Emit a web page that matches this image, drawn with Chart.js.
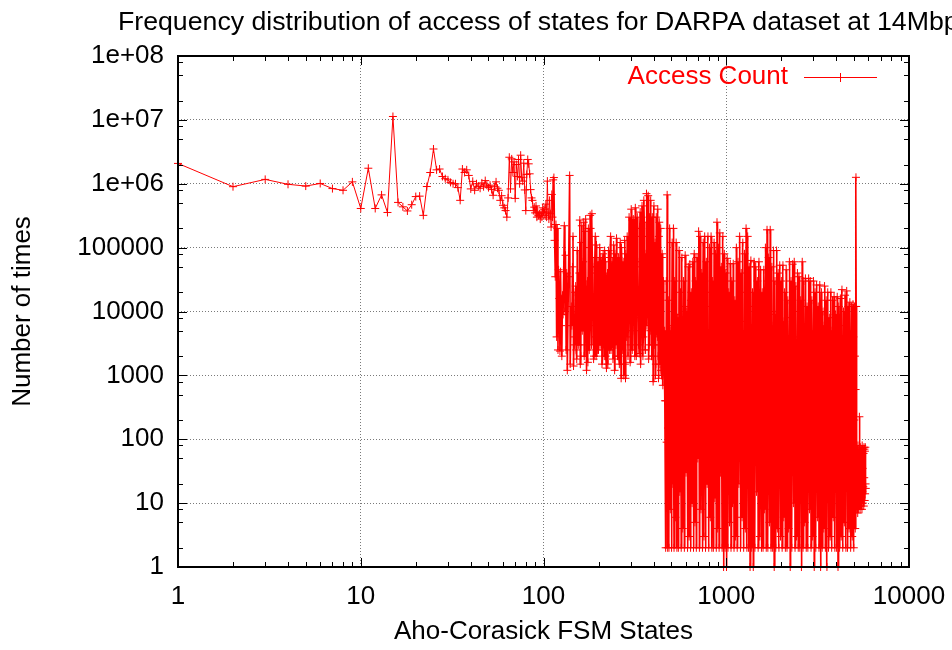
<!DOCTYPE html>
<html>
<head>
<meta charset="utf-8">
<title>Access Count</title>
<script src="https://cdn.jsdelivr.net/npm/chart.js@4.4.1/dist/chart.umd.min.js"></script>
<style>
  html, body { margin: 0; padding: 0; background: #fff; }
  canvas { display: block; }
</style>
</head>
<body>
<canvas id="chart" width="952" height="650"></canvas>
<script>
// Access counts per Aho-Corasick state
const chartTitle = 'Frequency distribution of access of states for DARPA dataset at 14Mbps';
const seriesName = 'Access Count';

// states 1..100 (sparse head of the curve)
const headStates = [
  1, 2, 3, 4, 5, 6, 7, 8, 9, 10,
  11, 12, 13, 14, 15, 16, 17, 18, 19, 20,
  21, 22, 23, 24, 25, 26, 27, 28, 29, 30,
  31, 32, 33, 34, 35, 36, 37, 38, 39, 40,
  41, 42, 43, 44, 45, 46, 47, 48, 49, 50,
  51, 52, 53, 54, 55, 56, 57, 58, 59, 60,
  61, 62, 63, 64, 65, 66, 67, 68, 69, 70,
  71, 72, 73, 74, 75, 76, 77, 78, 79, 80,
  81, 82, 83, 84, 85, 86, 87, 88, 89, 90,
  91, 92, 93, 94, 95, 96, 97, 98, 99, 100
];
const headCounts = [
  2080000, 900000, 1170000, 980000, 920000, 1010000, 840000, 790000, 1070000, 410000,
  1750000, 410000, 670000, 355000, 11300000, 510000, 435000, 375000, 470000, 630000,
  640000, 320000, 905000, 1500000, 3500000, 1650000, 1700000, 1300000, 1200000, 1150000,
  1050000, 1000000, 1000000, 870000, 550000, 1700000, 1500000, 1650000, 1350000, 830000,
  1090000, 790000, 1000000, 910000, 850000, 1030000, 900000, 1120000, 950000, 870000,
  950000, 810000, 660000, 900000, 1070000, 850000, 790000, 550000, 650000, 460000,
  420000, 380000, 300000, 600000, 2600000, 830000, 2450000, 1500000, 2200000, 590000,
  2000000, 1300000, 2400000, 1000000, 2800000, 1260000, 1100000, 2100000, 800000, 380000,
  1400000, 2400000, 2050000, 1430000, 810000, 600000, 550000, 380000, 430000, 350000,
  450000, 300000, 360000, 320000, 340000, 280000, 350000, 300000, 420000, 360000
];

// states 101..462
const midStates = [
  101, 102, 103, 104, 105, 106, 107, 108, 109, 110,
  111, 112, 113, 114, 115, 116, 117, 118, 119, 120,
  121, 122, 123, 124, 125, 126, 127, 128, 130, 131,
  132, 133, 134, 135, 137, 139, 140, 142, 144, 146,
  148, 150, 152, 154, 156, 158, 160, 162, 164, 166,
  168, 170, 172, 174, 176, 178, 180, 182, 184, 186,
  188, 190, 192, 194, 196, 198, 200, 203, 206, 209,
  212, 215, 218, 221, 224, 227, 230, 233, 236, 239,
  242, 245, 248, 251, 254, 257, 260, 263, 266, 269,
  272, 275, 278, 281, 284, 287, 290, 294, 298, 302,
  306, 310, 314, 318, 322, 326, 330, 334, 338, 342,
  346, 350, 354, 358, 362, 366, 370, 374, 378, 382,
  386, 390, 394, 398, 402, 406, 410, 414, 418, 422,
  426, 430, 434, 438, 442, 446, 450, 454, 458, 462
];
const midCounts = [
  400000, 320000, 480000, 300000, 1100000, 360000, 280000, 550000, 340000, 210000,
  680000, 300000, 1150000, 1250000, 130000, 35000, 230000, 4000, 200000, 2500,
  45000, 16000, 2400, 42000, 6000, 2000, 18000, 9000, 220000, 10000,
  76000, 2500, 40000, 1200, 35000, 1350000, 1500, 12000, 50000, 1400,
  3000, 25000, 1800, 6000, 15000, 270000, 2000, 220000, 14000, 250000,
  3000, 280000, 1200, 30000, 200000, 2500, 320000, 8000, 340000, 50000,
  1800, 9000, 150000, 2000, 40000, 12000, 2500, 100000, 70000, 1500,
  80000, 2000, 60000, 1300, 40000, 90000, 2500, 150000, 3000, 60000,
  110000, 1200, 30000, 140000, 2000, 70000, 1500, 120000, 900, 50000,
  18000, 1000, 130000, 900, 40000, 150000, 2000, 300000, 1600, 400000,
  2500, 280000, 8000, 420000, 2000, 300000, 15000, 2200, 360000, 5000,
  450000, 2000, 550000, 30000, 2500, 700000, 15000, 650000, 3000, 200000,
  550000, 2000, 300000, 800, 450000, 12000, 1000, 300000, 5000, 400000,
  900, 250000, 1500, 200000, 1000, 80000, 700, 30000, 1500, 400
];
// extra states in between, 143..460
const midFillStates = [
  143, 145, 147, 149, 151, 153, 155, 157, 159, 161,
  163, 165, 167, 169, 171, 173, 175, 177, 179, 181,
  183, 185, 187, 189, 191, 193, 195, 197, 199,
  204, 207, 210, 213, 216, 219, 222, 225, 228, 231,
  234, 237, 240, 243, 246, 249, 252, 255, 258, 261,
  264, 267, 270, 273, 276, 279, 282, 285, 288,
  296, 300, 304, 308, 312, 316, 320, 324, 328, 332,
  336, 340, 344, 348, 352, 356, 360, 364, 368, 372,
  376, 380, 384, 388, 392, 396, 400, 404, 408, 412,
  416, 420, 424, 428, 432, 436, 440, 444, 448, 452,
  456, 460
];
const midFillCounts = [
  6000, 150000, 4000, 20000, 2500, 90000, 3000, 40000, 1500, 120000,
  5000, 60000, 2000, 180000, 8000, 25000, 1600, 100000, 6000, 200000,
  3000, 70000, 12000, 2000, 50000, 4000, 110000, 2500, 60000,
  3000, 20000, 60000, 5000, 90000, 2000, 30000, 1500, 8000, 70000,
  2500, 40000, 1800, 15000, 80000, 3000, 10000, 50000, 2000, 30000,
  4000, 100000, 2500, 60000, 6000, 1500, 80000, 4000, 20000,
  20000, 3000, 100000, 5000, 40000, 2000, 150000, 8000, 60000, 3000,
  200000, 1500, 50000, 12000, 4000, 250000, 2500, 80000, 6000, 150000,
  1800, 300000, 5000, 40000, 2000, 100000, 8000, 3000, 120000, 1500,
  60000, 4000, 2000, 150000, 3000, 30000, 1200, 70000, 2500, 20000,
  1000, 5000
];

// states 466..5150 (dense band)
const denseStates = [
  466, 470, 475, 478, 482, 486, 490, 494, 498, 502,
  506, 510, 514, 518, 522, 527, 532, 537, 542, 547,
  552, 557, 562, 567, 572, 578, 584, 590, 596, 602,
  608, 614, 620, 626, 632, 638, 644, 650, 656, 662,
  668, 674, 680, 686, 692, 699, 706, 713, 720, 727,
  734, 741, 748, 755, 762, 770, 778, 786, 794, 802,
  810, 818, 826, 834, 842, 850, 858, 866, 874, 882,
  890, 898, 906, 914, 922, 931, 940, 949, 958, 967,
  976, 985, 994, 1003, 1012, 1022, 1032, 1042, 1052, 1062,
  1072, 1082, 1092, 1103, 1114, 1125, 1136, 1148, 1160, 1172,
  1184, 1196, 1208, 1220, 1232, 1245, 1258, 1271, 1284, 1297,
  1310, 1323, 1336, 1350, 1364, 1378, 1392, 1406, 1420, 1435,
  1450, 1465, 1480, 1495, 1510, 1526, 1542, 1558, 1574, 1590,
  1606, 1622, 1638, 1655, 1672, 1689, 1706, 1723, 1740, 1758,
  1776, 1794, 1812, 1830, 1848, 1866, 1885, 1904, 1923, 1942,
  1962, 1982, 2002, 2022, 2043, 2064, 2085, 2106, 2128, 2150,
  2172, 2194, 2216, 2239, 2262, 2285, 2308, 2331, 2355, 2379,
  2403, 2427, 2452, 2477, 2502, 2527, 2553, 2579, 2605, 2631,
  2658, 2685, 2712, 2740, 2768, 2796, 2824, 2853, 2882, 2911,
  2940, 2970, 3000, 3030, 3060, 3091, 3122, 3154, 3186, 3218,
  3250, 3283, 3316, 3349, 3383, 3417, 3451, 3486, 3521, 3556,
  3592, 3628, 3664, 3701, 3738, 3775, 3813, 3851, 3890, 3929,
  3968, 4008, 4048, 4088, 4129, 4170, 4212, 4254, 4297, 4340,
  4383, 4427, 4471, 4516, 4561, 4607, 4653, 4700, 4747, 4794,
  4842, 4890, 4939, 4988, 5038, 5080, 5126, 5140, 5150
];
const denseCounts = [
  2, 30000, 670000, 2, 15000, 2, 200000, 8, 5000, 2,
  120000, 20, 200000, 2, 30000, 6, 120000, 2, 8000, 2,
  90000, 15, 20000, 2, 70000, 4, 30000, 2, 76000, 30,
  10000, 2, 50000, 3, 55000, 2, 20000, 10, 60000, 2,
  80000, 5, 30000, 2, 70000, 50, 180000, 2, 150000, 8,
  40000, 2, 120000, 3, 150000, 2, 60000, 20, 150000, 2,
  100000, 6, 150000, 2, 30000, 2, 120000, 12, 80000, 2,
  250000, 4, 100000, 2, 170000, 30, 50000, 2, 150000, 1,
  80000, 2, 40000, 1, 68000, 2, 20000, 5, 56000, 2,
  30000, 10, 56000, 2, 15000, 3, 100000, 2, 60000, 20,
  150000, 2, 40000, 6, 120000, 2, 80000, 4, 200000, 2,
  150000, 2, 50000, 1, 63000, 2, 20000, 1, 60000, 2,
  50000, 15, 30000, 2, 60000, 3, 45000, 2, 20000, 2,
  45000, 8, 100000, 2, 190000, 2, 70000, 5, 190000, 2,
  50000, 2, 90000, 1, 30000, 2, 90000, 4, 40000, 2,
  53000, 3, 30000, 2, 53000, 6, 20000, 2, 45000, 2,
  15000, 4, 60000, 1, 30000, 2, 55000, 10, 60000, 2,
  25000, 3, 40000, 2, 35000, 2, 15000, 1, 60000, 2,
  30000, 5, 33000, 2, 12000, 2, 33000, 8, 30000, 2,
  15000, 3, 30000, 1, 20000, 2, 26000, 6, 12000, 2,
  26000, 1, 20000, 2, 10000, 4, 25000, 2, 15000, 1,
  20000, 2, 8000, 3, 20000, 2, 15000, 6, 17000, 2,
  9000, 2, 17000, 1, 12000, 2, 16000, 3, 22000, 2,
  10000, 5, 18000, 2, 21000, 2, 12000, 4, 14000, 2,
  12000, 3, 13000, 2, 12000, 4, 1260000, 12000, 20
];
// in-between states of the dense band (mid-level counts)
const denseFillStates = [
  468, 472, 476, 480, 484, 488, 492, 496, 500, 504,
  508, 512, 516, 520, 524, 529, 534, 539, 544, 549,
  554, 559, 564, 569, 575, 581, 587, 593, 599, 605,
  611, 617, 623, 629, 635, 641, 647, 653, 659, 665,
  671, 677, 683, 689, 695, 702, 709, 716, 723, 730,
  737, 744, 751, 758, 766, 774, 782, 790, 798, 806,
  814, 822, 830, 838, 846, 854, 862, 870, 878, 886,
  894, 902, 910, 918, 926, 935, 944, 953, 962, 971,
  980, 989, 998, 1007, 1017, 1027, 1037, 1047, 1057, 1067,
  1077, 1087, 1097, 1108, 1119, 1130, 1142, 1154, 1166, 1178,
  1190, 1202, 1214, 1226, 1238, 1251, 1264, 1277, 1290, 1303,
  1316, 1329, 1343, 1357, 1371, 1385, 1399, 1413, 1427, 1442,
  1457, 1472, 1487, 1502, 1518, 1534, 1550, 1566, 1582, 1598,
  1614, 1630, 1646, 1663, 1680, 1697, 1714, 1731, 1749, 1767,
  1785, 1803, 1821, 1839, 1857, 1875, 1894, 1913, 1932, 1952,
  1972, 1992, 2012, 2032, 2053, 2074, 2095, 2117, 2139, 2161,
  2183, 2205, 2227, 2250, 2273, 2296, 2319, 2343, 2367, 2391,
  2415, 2439, 2464, 2489, 2514, 2540, 2566, 2592, 2618, 2644,
  2671, 2698, 2726, 2754, 2782, 2810, 2838, 2867, 2896, 2925,
  2955, 2985, 3015, 3045, 3075, 3106, 3138, 3170, 3202, 3234,
  3266, 3299, 3332, 3366, 3400, 3434, 3468, 3503, 3538, 3574,
  3610, 3646, 3682, 3719, 3756, 3794, 3832, 3870, 3909, 3948,
  3988, 4028, 4068, 4108, 4149, 4191, 4233, 4275, 4318, 4361,
  4405, 4449, 4493, 4538, 4584, 4630, 4676, 4723, 4770, 4818,
  4866, 4914, 4963, 5013, 5059, 5103
];
const denseFillCounts = [
  400, 90, 3000, 150, 800, 2500, 40, 1200, 300, 6000,
  500, 3000, 60, 1500, 250, 9000, 700, 100, 2000, 400,
  5000, 200, 1000, 80, 3500, 600, 12000, 150, 2500, 900,
  300, 7000, 120, 2000, 500, 15000, 60, 1000, 4000, 250,
  1800, 400, 10000, 90, 2500, 700, 30000, 200, 5000, 1200,
  350, 8000, 60, 3000, 900, 20000, 150, 4000, 600, 2000,
  12000, 300, 1500, 80, 6000, 700, 25000, 200, 3000, 1000,
  400, 9000, 150, 2500, 600, 40000, 100, 1800, 5000, 300,
  3000, 700, 15000, 120, 1500, 400, 6000, 60, 2500, 800,
  10000, 200, 3000, 500, 1200, 90, 8000, 350, 2000, 700,
  4000, 150, 20000, 600, 1500, 300, 7000, 80, 2500, 900,
  12000, 250, 3000, 120, 1800, 500, 6000, 200, 1000, 400,
  8000, 100, 2000, 700, 5000, 250, 1500, 60, 3000, 600,
  15000, 200, 2500, 900, 30000, 150, 4000, 400, 10000, 300,
  1200, 6000, 80, 2000, 500, 9000, 200, 1500, 700, 3000,
  250, 5000, 600, 1800, 120, 7000, 400, 1000, 3000, 90,
  2000, 500, 8000, 150, 1500, 600, 4000, 250, 10000, 300,
  1200, 3000, 80, 2500, 700, 1500, 200, 5000, 400, 1000,
  3000, 150, 6000, 500, 1800, 90, 4000, 300, 1200, 600,
  2500, 200, 5000, 800, 1500, 100, 3000, 400, 900, 2000,
  150, 4000, 600, 1800, 300, 6000, 120, 1500, 700, 2500,
  400, 3000, 90, 1200, 500, 5000, 250, 1800, 600, 800,
  2000, 150, 4000, 500, 1200, 300, 6000, 80, 1500, 900,
  3000, 250, 1800, 600, 5000, 120, 1000, 400, 2500, 700,
  1500, 300, 4000, 200, 2000, 600
];

// states 5160..5800 (low tail)
const tailStates = [
  5160, 5176, 5192, 5208, 5224, 5240, 5256, 5272, 5288, 5304,
  5320, 5336, 5352, 5368, 5384, 5400, 5416, 5432, 5448, 5464,
  5480, 5496, 5512, 5528, 5544, 5560, 5576, 5592, 5608, 5624,
  5640, 5656, 5672, 5688, 5704, 5720, 5736, 5752, 5768, 5784,
  5800
];
const tailCounts = [
  60, 8, 70, 10, 50, 7, 80, 12, 40, 8,
  70, 15, 225, 10, 60, 8, 75, 20, 45, 9,
  70, 12, 55, 8, 80, 15, 35, 10, 70, 18,
  60, 9, 75, 25, 70, 11, 65, 14, 75, 20,
  17
];

const xTickValues = [1, 10, 100, 1000, 10000];
const xTickLabels = ['1', '10', '100', '1000', '10000'];
const yTickValues = [1, 10, 100, 1000, 10000, 100000, 1000000, 10000000, 100000000];
const yTickLabels = ['1', '10', '100', '1000', '10000', '100000', '1e+06', '1e+07', '1e+08'];
const xMinorSteps = [2, 3, 4, 5, 6, 7, 8, 9];
const yMinorSteps = [2, 5, 8];

const allStates = headStates.concat(midStates, midFillStates, denseStates, denseFillStates, tailStates);
const allCounts = headCounts.concat(midCounts, midFillCounts, denseCounts, denseFillCounts, tailCounts);
const points = allStates
    .map((s, i) => ({ x: s, y: allCounts[i] }))
    .sort((a, b) => a.x - b.x);

const FONT = '"Liberation Sans", Arial, sans-serif';

// border on all four sides plus inward major/minor tics, gnuplot style
const frameTics = {
    id: 'frameTics',
    afterDatasetsDraw(chart) {
        const { ctx, chartArea: a, scales: { x, y } } = chart;
        ctx.save();
        ctx.strokeStyle = '#000';
        ctx.lineWidth = 1;
        ctx.beginPath();
        const xTic = (v, len) => {
            const px = Math.round(x.getPixelForValue(v)) + 0.5;
            ctx.moveTo(px, a.bottom); ctx.lineTo(px, a.bottom - len);
            ctx.moveTo(px, a.top); ctx.lineTo(px, a.top + len);
        };
        const yTic = (v, len) => {
            const py = Math.round(y.getPixelForValue(v)) + 0.5;
            ctx.moveTo(a.left, py); ctx.lineTo(a.left + len, py);
            ctx.moveTo(a.right, py); ctx.lineTo(a.right - len, py);
        };
        xTickValues.forEach(v => xTic(v, 9));
        xTickValues.slice(0, -1).forEach(d => xMinorSteps.forEach(k => xTic(d * k, 5)));
        yTickValues.forEach(v => yTic(v, 9));
        yTickValues.slice(0, -1).forEach(d => yMinorSteps.forEach(k => yTic(d * k, 5)));
        ctx.stroke();
        ctx.lineWidth = 2;
        ctx.strokeRect(a.left, a.top, a.right - a.left, a.bottom - a.top);
        ctx.restore();
    }
};

const titleKey = {
    id: 'titleKey',
    afterDraw(chart) {
        const ctx = chart.ctx;
        ctx.save();
        ctx.font = '26.7px ' + FONT;
        ctx.fillStyle = '#000';
        ctx.textAlign = 'left';
        ctx.textBaseline = 'alphabetic';
        ctx.fillText(chartTitle, 118, 30);

        ctx.font = '26px ' + FONT;
        ctx.fillStyle = 'rgb(255,0,0)';
        ctx.textAlign = 'right';
        ctx.textBaseline = 'middle';
        ctx.fillText(seriesName, 788, 77);
        ctx.strokeStyle = 'rgb(255,0,0)';
        ctx.lineWidth = 1;
        ctx.beginPath();
        ctx.moveTo(804, 77.5); ctx.lineTo(877, 77.5);
        ctx.moveTo(840.5, 73); ctx.lineTo(840.5, 82);
        ctx.stroke();
        ctx.restore();
    }
};

const gridColor = (ctx, ends) => {
    const v = ctx.tick && ctx.tick.value;
    return ends.includes(v) ? 'rgba(0,0,0,0)' : '#7a7a7a';
};

new Chart(document.getElementById('chart'), {
    type: 'scatter',
    data: {
        datasets: [{
            label: seriesName,
            data: points,
            showLine: true,
            borderColor: 'rgb(255,0,0)',
            backgroundColor: 'rgb(255,0,0)',
            borderWidth: 1,
            // thousands of overlapping strokes in the original: a bit heavier where it is dense
            segment: {
                borderWidth: c => (c.p0.parsed.x > 110 ? 1.6 : 1)
            },
            pointStyle: 'cross',
            pointRadius: 4,
            pointHoverRadius: 4,
            pointBorderWidth: 1,
            pointBorderColor: 'rgb(255,0,0)',
            tension: 0,
            clip: false
        }]
    },
    options: {
        responsive: false,
        animation: false,
        devicePixelRatio: 1,
        events: [],
        layout: { padding: { left: 0, top: 56, right: 43, bottom: 0 } },
        plugins: {
            legend: { display: false },
            tooltip: { enabled: false },
            title: { display: false }
        },
        scales: {
            x: {
                type: 'logarithmic',
                min: 1,
                max: 10000,
                afterBuildTicks: s => { s.ticks = xTickValues.map(v => ({ value: v })); },
                afterFit: s => { s.height = 83; s.paddingLeft = 0; s.paddingRight = 0; },
                ticks: {
                    autoSkip: false,
                    maxRotation: 0,
                    padding: 14,
                    color: '#000',
                    font: { family: FONT, size: 26 },
                    callback: v => xTickLabels[xTickValues.indexOf(v)]
                },
                grid: {
                    color: c => gridColor(c, [1, 10000]),
                    lineWidth: 1,
                    drawTicks: false
                },
                border: { display: false, dash: [1, 2] },
                title: {
                    display: true,
                    text: 'Aho-Corasick FSM States',
                    color: '#000',
                    font: { family: FONT, size: 26 },
                    padding: { top: 0, bottom: 3 }
                }
            },
            y: {
                type: 'logarithmic',
                min: 1,
                max: 100000000,
                afterBuildTicks: s => { s.ticks = yTickValues.map(v => ({ value: v })); },
                afterFit: s => { s.width = 178; s.paddingTop = 0; s.paddingBottom = 0; },
                ticks: {
                    autoSkip: false,
                    padding: 14,
                    color: '#000',
                    font: { family: FONT, size: 26 },
                    callback: v => yTickLabels[yTickValues.indexOf(v)]
                },
                grid: {
                    color: c => gridColor(c, [1, 100000000]),
                    lineWidth: 1,
                    drawTicks: false
                },
                border: { display: false, dash: [1, 2] },
                title: {
                    display: true,
                    text: 'Number of times',
                    color: '#000',
                    font: { family: FONT, size: 26 },
                    padding: { top: 7, bottom: 0 }
                }
            }
        }
    },
    plugins: [frameTics, titleKey]
});
</script>
</body>
</html>
